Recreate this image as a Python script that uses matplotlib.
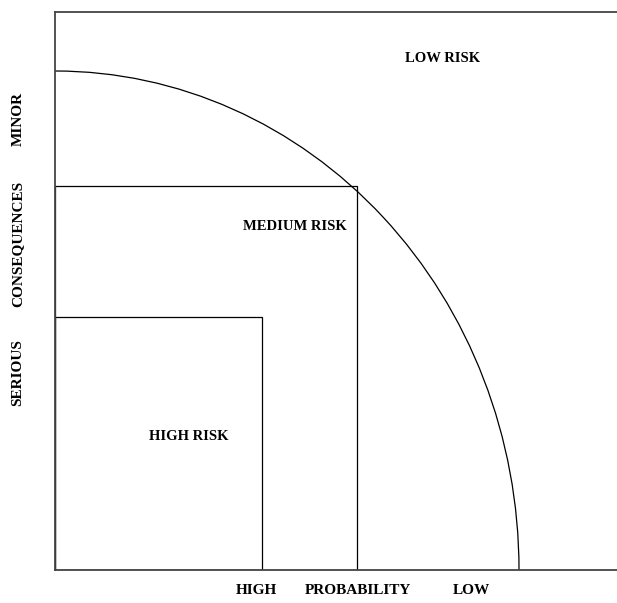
import matplotlib.pyplot as plt
from matplotlib.patches import Rectangle, Arc

# risk zones (pixel-like units from the plot origin)
zone_names = ['HIGH RISK', 'MEDIUM RISK']
zone_w = [207, 302]
zone_h = [253, 384]
arc_w, arc_h = 464, 499  # LOW/MEDIUM boundary (quarter ellipse radii)

labels = ['LOW RISK', 'MEDIUM RISK', 'HIGH RISK']
label_x = [388, 240, 134]
label_y = [512, 344, 134]

x_words = ['HIGH', 'PROBABILITY', 'LOW']
x_word_pos = [256, 358, 471]
y_words = ['SERIOUS', 'CONSEQUENCES', 'MINOR']
y_word_pos = [373, 244, 119]

W, H = 617, 603
plt.rcParams['font.family'] = ['Liberation Serif', 'DejaVu Serif']

fig = plt.figure(figsize=(W / 100, H / 100), dpi=100)
ax = fig.add_axes([55 / W, (H - 570) / H, (W - 55) / W, (570 - 12) / H])
ax.set_xlim(0, W - 55)
ax.set_ylim(0, 570 - 12)

for w, h in zip(zone_w, zone_h):
    ax.add_patch(Rectangle((0, 0), w, h, fill=False, edgecolor='black', linewidth=0.9))
ax.add_patch(Arc((0, 0), 2 * arc_w, 2 * arc_h, theta1=0, theta2=90, edgecolor='black', linewidth=0.9))

for t, x, y in zip(labels, label_x, label_y):
    ax.text(x, y, t, ha='center', va='center', fontsize=10.5, fontweight='bold')

ax.set_xticks([])
ax.set_yticks([])
ax.spines['right'].set_visible(False)
for s in ['top', 'bottom', 'left']:
    ax.spines[s].set_color('#444444')
    ax.spines[s].set_linewidth(1.3)

for t, x in zip(x_words, x_word_pos):
    fig.text(x / W, 1 - 591 / H, t, ha='center', va='center', fontsize=11, fontweight='bold')
for t, y in zip(y_words, y_word_pos):
    fig.text(18 / W, 1 - y / H, t, ha='center', va='center', rotation=90, fontsize=11, fontweight='bold')

plt.savefig('out.png', dpi=100)
